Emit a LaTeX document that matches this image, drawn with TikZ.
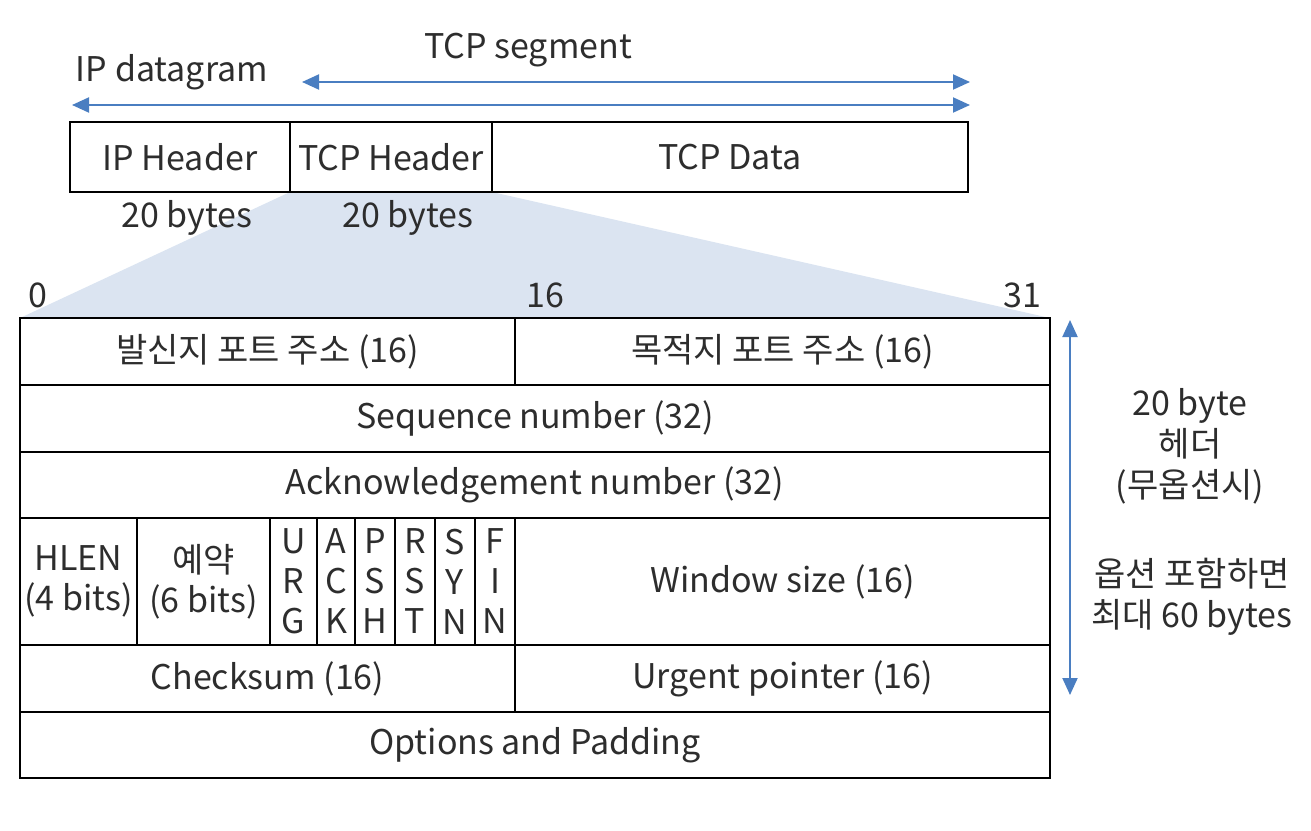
\documentclass[tikz,border=0pt]{standalone}
\usepackage{fontspec}
\setmainfont{Noto Sans CJK KR}
\usetikzlibrary{arrows.meta,positioning,calc}
\definecolor{tcpBlue}{RGB}{74,126,193}
\definecolor{tcpFill}{RGB}{219,228,241}
\definecolor{tcpText}{RGB}{45,45,45}
\tikzset{
  cell/.style={draw=black,line width=2.2pt,inner sep=0pt,align=center,text=tcpText,
    font=\fontsize{34}{40}\selectfont},
  lbl/.style={inner sep=0pt,align=center,text=tcpText,font=\fontsize{34}{41}\selectfont},
  span/.style={tcpBlue,line width=2pt,{Triangle[length=17pt,width=15pt]}-{Triangle[length=17pt,width=15pt]}}
}

\begin{document}
\begin{tikzpicture}[x=1pt,y=-1pt]
  \useasboundingbox (0,0) rectangle (1311,830);
  % zoom wedge from the TCP header to the table
  \fill[tcpFill] (290,192) -- (492,192) -- (1050,318) -- (20,318) -- cycle;

  % packet strip
  \node[cell,minimum width=220,minimum height=70] (iphdr) at (180,157) {IP Header};
  \node[cell,minimum width=202,minimum height=70] (tcphdr) at (391,157) {TCP Header};
  \node[cell,minimum width=476,minimum height=70] (tcpdata) at (730,157) {TCP Data};
  \node[lbl] (iplen) at (187,218) {20 bytes};
  \node[lbl] (tcplen) at (408,218) {20 bytes};

  \coordinate (dgL) at (72,105);
  \coordinate (dgR) at (970,105);
  \coordinate (segL) at (302,82);
  \coordinate (segR) at (970,82);
  \draw[span] (dgL) -- (dgR);
  \draw[span] (segL) -- (segR);
  \node[lbl] (dglbl) at (172,72) {IP datagram};
  \node[lbl] (seglbl) at (528,50) {TCP segment};

  % bit positions
  \node[lbl] (bit0) at (38,295) {0};
  \node[lbl] (bit16) at (545,295) {16};
  \node[lbl] (bit31) at (1022,295) {31};

  % header fields
  \node[cell,minimum width=495,minimum height=67] (srcport) at (267.5,351.5) {발신지 포트 주소 (16)};
  \node[cell,minimum width=535,minimum height=67] (dstport) at (782.5,351.5) {목적지 포트 주소 (16)};
  \node[cell,minimum width=1030,minimum height=67] (seqno) at (535,418.5) {Sequence number (32)};
  \node[cell,minimum width=1030,minimum height=66] (ackno) at (535,485) {Acknowledgement number (32)};
  \node[cell,minimum width=117,minimum height=127] (hlen) at (78.5,581.5) {HLEN\\(4 bits)};
  \node[cell,minimum width=133,minimum height=127] (resv) at (203.5,581.5) {예약\\(6 bits)};
  \foreach \nm/\a/\b/\c/\cx/\w in {urg/U/R/G/293.5/47,ack/A/C/K/336/38,psh/P/S/H/375/40,
      rst/R/S/T/415/40,syn/S/Y/N/455/40,fin/F/I/N/495/40}
    \node[cell,minimum width=\w,minimum height=127] (\nm) at (\cx,581.5) {\a\\\b\\\c};
  \node[cell,minimum width=535,minimum height=127] (window) at (782.5,581.5) {Window size (16)};
  \node[cell,minimum width=495,minimum height=67] (chksum) at (267.5,678.5) {Checksum (16)};
  \node[cell,minimum width=535,minimum height=67] (urgptr) at (782.5,678.5) {Urgent pointer (16)};
  \node[cell,minimum width=1030,minimum height=66] (opts) at (535,745) {Options and Padding};

  % header length
  \coordinate (hdTop) at (1070,320);
  \coordinate (hdBot) at (1070,695);
  \draw[span] (hdTop) -- (hdBot);
  \node[lbl] (minlen) at (1190,446) {20 byte\\헤더\\(무옵션시)};
  \node[lbl] (maxlen) at (1192,597) {옵션 포함하면\\최대 60 bytes};
\end{tikzpicture}
\end{document}
